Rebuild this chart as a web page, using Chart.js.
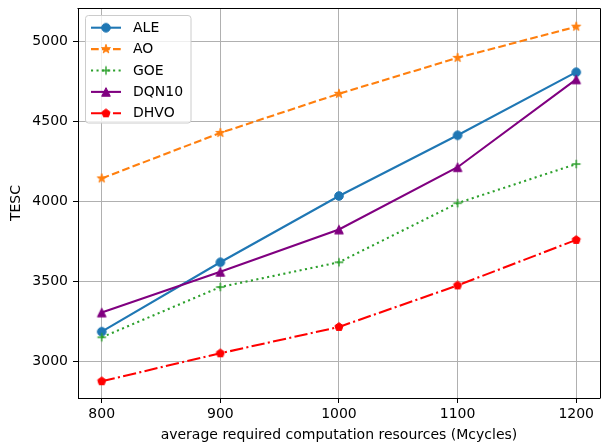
<!DOCTYPE html>
<html>
<head>
<meta charset="utf-8">
<title>TESC vs computation resources</title>
<script src="https://cdn.jsdelivr.net/npm/chart.js@4/dist/chart.umd.min.js"></script>
<style>
	html, body { margin: 0; padding: 0; background: #fff; overflow: hidden; }
	#chart { display: block; }
</style>
</head>
<body>
<canvas id="chart" width="606" height="444"></canvas>
<script>
/*
|--------------------------------------------------------------------------
| Data
|--------------------------------------------------------------------------
*/

var X_VALUES = [800, 900, 1000, 1100, 1200];
var X_TICKS  = [800, 900, 1000, 1100, 1200];
var Y_TICKS  = [3000, 3500, 4000, 4500, 5000];

var ALE   = [3185, 3620, 4035, 4415, 4810];
var AO    = [4145, 4430, 4675, 4900, 5095];
var GOE   = [3150, 3465, 3620, 3990, 4235];
var DQN10 = [3305, 3560, 3825, 4215, 4765];
var DHVO  = [2875, 3050, 3215, 3475, 3760];

var SERIES_NAMES = ['ALE', 'AO', 'GOE', 'DQN10', 'DHVO'];

/*
|--------------------------------------------------------------------------
| Styles
|--------------------------------------------------------------------------
*/

var FONT_FAMILY = "'DejaVu Sans', 'Liberation Sans', sans-serif";

var COLORS = {
	blue:   '#1f77b4',
	orange: '#ff7f0e',
	green:  '#2ca02c',
	purple: '#800080',
	red:    '#ff0000',
	grid:   '#b0b0b0',
};

var LINE_W = 2.08;
var MARK_R = 4.3;

// Dash patterns in px (matplotlib defaults at 1.5pt line width).
var DASHED   = [7.7, 3.3];
var DOTTED   = [2.08, 3.44];
var DASH_DOT = [13.3, 3.3, 2.08, 3.3];

/**
 * Build a small canvas with a matplotlib-like marker drawn in it.
 */
function makeMarker(shape, color) {
	var size = 16;
	var c = document.createElement('canvas');
	c.width = size;
	c.height = size;
	var ctx = c.getContext('2d');
	var cx = size / 2, cy = size / 2, r = MARK_R, i, ang, rad;

	ctx.fillStyle   = color;
	ctx.strokeStyle = color;
	ctx.lineJoin    = 'miter';
	ctx.beginPath();

	if (shape === 'circle') {
		ctx.arc(cx, cy, r, 0, Math.PI * 2);
	} else if (shape === 'star') {
		r = r * 1.1;
		for (i = 0; i < 10; i++) {
			ang = -Math.PI / 2 + i * Math.PI / 5;
			rad = (i % 2) ? r * 0.381966 : r;
			ctx.lineTo(cx + Math.cos(ang) * rad, cy + Math.sin(ang) * rad);
		}
		ctx.closePath();
	} else if (shape === 'triangle') {
		ctx.moveTo(cx, cy - r);
		ctx.lineTo(cx - r, cy + r);
		ctx.lineTo(cx + r, cy + r);
		ctx.closePath();
	} else if (shape === 'pentagon') {
		for (i = 0; i < 5; i++) {
			ang = -Math.PI / 2 + i * 2 * Math.PI / 5;
			ctx.lineTo(cx + Math.cos(ang) * r, cy + Math.sin(ang) * r);
		}
		ctx.closePath();
	} else if (shape === 'plus') {
		ctx.lineWidth = 1.39;
		ctx.moveTo(cx - r, cy);
		ctx.lineTo(cx + r, cy);
		ctx.moveTo(cx, cy - r);
		ctx.lineTo(cx, cy + r);
		ctx.stroke();
		return c;
	}

	ctx.fill();
	ctx.lineWidth = 1;
	ctx.stroke();
	return c;
}

function toPoints(values) {
	return values.map(function (v, i) {
		return { x: X_VALUES[i], y: v };
	});
}

function series(name, values, color, dash, marker, order) {
	return {
		label:            name,
		data:             toPoints(values),
		borderColor:      color,
		backgroundColor:  color,
		borderWidth:      LINE_W,
		borderDash:       dash,
		borderCapStyle:   'butt',
		pointStyle:       makeMarker(marker, color),
		pointRadius:      4,
		pointHoverRadius: 4,
		tension:          0,
		fill:             false,
		order:            order,
	};
}

/*
|--------------------------------------------------------------------------
| Plugins
|--------------------------------------------------------------------------
*/

// Top and right spines.
var framePlugin = {
	id: 'frame',
	afterDatasetsDraw: function (chart) {
		var a = chart.chartArea;
		var ctx = chart.ctx;
		ctx.save();
		ctx.strokeStyle = '#000';
		ctx.lineWidth = 1;
		ctx.beginPath();
		ctx.moveTo(Math.round(a.left) - 0.5, Math.round(a.top) + 0.5);
		ctx.lineTo(Math.round(a.right) + 0.5, Math.round(a.top) + 0.5);
		ctx.lineTo(Math.round(a.right) + 0.5, Math.round(a.bottom) + 0.5);
		ctx.stroke();
		ctx.restore();
	},
};

// Matplotlib style legend: line sample with marker in its middle.
var legendPlugin = {
	id: 'mplLegend',
	afterDraw: function (chart) {
		var ctx = chart.ctx;
		var x0 = 85.5, y0 = 15.5, w = 105.5, h = 107.5;

		ctx.save();
		ctx.beginPath();
		ctx.roundRect(x0, y0, w, h, 3);
		ctx.fillStyle = 'rgba(255,255,255,0.8)';
		ctx.fill();
		ctx.strokeStyle = '#cccccc';
		ctx.lineWidth = 1;
		ctx.stroke();

		chart.data.datasets.forEach(function (ds, i) {
			var y = 27.7 + i * 21.4;
			ctx.setLineDash(ds.borderDash || []);
			ctx.strokeStyle = ds.borderColor;
			ctx.lineWidth = ds.borderWidth;
			ctx.lineCap = 'butt';
			ctx.beginPath();
			ctx.moveTo(91, y);
			ctx.lineTo(121, y);
			ctx.stroke();
			ctx.setLineDash([]);

			var m = ds.pointStyle;
			ctx.drawImage(m, 106 - m.width / 2, y - m.height / 2);

			ctx.fillStyle = '#000';
			ctx.font = '14px ' + FONT_FAMILY;
			ctx.textAlign = 'left';
			ctx.textBaseline = 'middle';
			ctx.fillText(ds.label, 133, y + 0.5);
		});
		ctx.restore();
	},
};

/*
|--------------------------------------------------------------------------
| Chart
|--------------------------------------------------------------------------
*/

Chart.defaults.font.family = FONT_FAMILY;
Chart.defaults.font.size   = 14;
Chart.defaults.color       = '#000';

new Chart(document.getElementById('chart'), {
	type: 'line',
	data: {
		datasets: [
			series(SERIES_NAMES[0], ALE,   COLORS.blue,   [],       'circle',   5),
			series(SERIES_NAMES[1], AO,    COLORS.orange, DASHED,   'star',     4),
			series(SERIES_NAMES[2], GOE,   COLORS.green,  DOTTED,   'plus',     3),
			series(SERIES_NAMES[3], DQN10, COLORS.purple, [],       'triangle', 2),
			series(SERIES_NAMES[4], DHVO,  COLORS.red,    DASH_DOT, 'pentagon', 1),
		],
	},
	options: {
		responsive:       false,
		animation:        false,
		devicePixelRatio: 1,
		layout: {
			padding: { top: 8, right: 3, left: 0, bottom: 0 },
		},
		plugins: {
			legend:  { display: false },
			tooltip: { enabled: false },
		},
		scales: {
			x: {
				type: 'linear',
				min:  780,
				max:  1220,
				afterBuildTicks: function (scale) {
					scale.ticks = X_TICKS.map(function (v) { return { value: v }; });
				},
				afterFit: function (scale) {
					scale.height = 46;
					scale.paddingLeft = 0;
					scale.paddingRight = 0;
				},
				ticks: {
					autoSkip:    false,
					maxRotation: 0,
					padding:     3,
					callback:    function (v) { return String(v); },
				},
				grid: {
					color:      COLORS.grid,
					lineWidth:  1,
					tickColor:  '#000',
					tickLength: 5,
				},
				border: { display: true, color: '#000', width: 1 },
				title: {
					display: true,
					text:    'average required computation resources (Mcycles)',
					padding: { top: 0, bottom: 0 },
				},
			},
			y: {
				type: 'linear',
				min:  2770,
				max:  5212,
				afterBuildTicks: function (scale) {
					scale.ticks = Y_TICKS.map(function (v) { return { value: v }; });
				},
				afterFit: function (scale) {
					scale.width = 78;
					scale.paddingTop = 0;
					scale.paddingBottom = 0;
				},
				ticks: {
					padding:  5,
					callback: function (v) { return String(v); },
				},
				grid: {
					color:      COLORS.grid,
					lineWidth:  1,
					tickColor:  '#000',
					tickLength: 5,
				},
				border: { display: true, color: '#000', width: 1 },
				title: {
					display: true,
					text:    'TESC',
					padding: { top: 8, bottom: 0 },
				},
			},
		},
	},
	plugins: [framePlugin, legendPlugin],
});
</script>
</body>
</html>
